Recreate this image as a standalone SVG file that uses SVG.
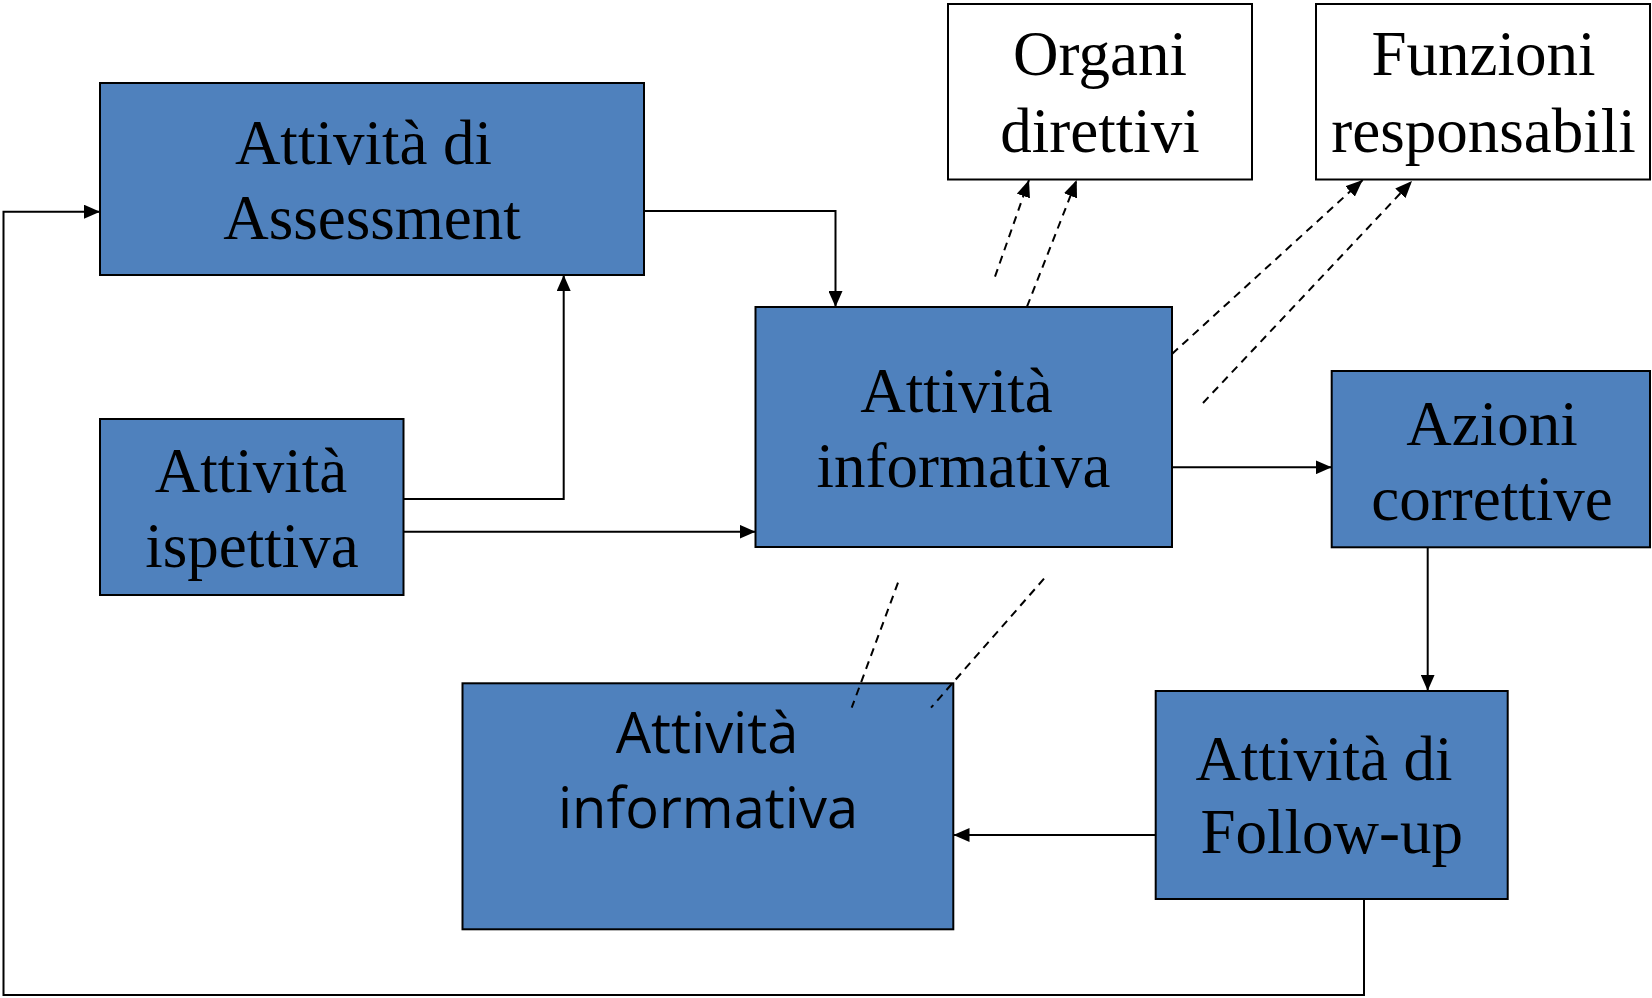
<svg xmlns="http://www.w3.org/2000/svg" width="1652" height="998" viewBox="0 0 1652 998">
<defs>
<style>
.box{fill:#4F81BD;stroke:#000;stroke-width:2}
.wbox{fill:#fff;stroke:#000;stroke-width:2}
.t{font-family:"Liberation Serif","Times New Roman",serif;font-size:63px;fill:#000;text-anchor:middle}
.s{font-family:"Open Sans","Liberation Sans",sans-serif;font-size:56px;fill:#000;text-anchor:middle}
.c{fill:none;stroke:#000;stroke-width:2}
.d{fill:none;stroke:#000;stroke-width:2;stroke-dasharray:8 6}
</style>
<marker id="ah" markerUnits="userSpaceOnUse" markerWidth="16" markerHeight="14" refX="16" refY="7" orient="auto">
<path d="M0,0 L16,7 L0,14 z" fill="#000"/>
</marker>
<marker id="dh" markerUnits="userSpaceOnUse" markerWidth="17" markerHeight="14" refX="17" refY="7" orient="auto">
<path d="M0,0 L17,7 L0,14 z" fill="#000"/>
</marker>
</defs>
<rect width="1652" height="998" fill="#fff"/>
<g id="connectors">
<path class="c" d="M644,211 H835.5 V307" marker-end="url(#ah)"/>
<path class="c" d="M403.5,499 H563.7 V275" marker-end="url(#ah)"/>
<path class="c" d="M403.5,531.7 H755.5" marker-end="url(#ah)"/>
<path class="c" d="M1172,467.3 H1331.7" marker-end="url(#ah)"/>
<path class="c" d="M1427.7,547.3 V690.7" marker-end="url(#ah)"/>
<path class="c" d="M1155.7,835 H953.5" marker-end="url(#ah)"/>
<path class="c" d="M1364,899 V995 H3.5 V211.7 H100" marker-end="url(#ah)"/>
<path class="d" d="M995,276.7 L1029,180" marker-end="url(#dh)"/>
<path class="d" d="M1027,306.7 L1076.7,180" marker-end="url(#dh)"/>
<path class="d" d="M1172,354 L1362.7,180" marker-end="url(#dh)"/>
<path class="d" d="M1203,403 L1412,181" marker-end="url(#dh)"/>
</g>
<g id="assessment">
<rect class="box" x="100" y="83" width="544" height="192"/>
<text class="t" x="363.5" y="164">Attività di</text>
<text class="t" x="372" y="239">Assessment</text>
</g>
<g id="ispettiva">
<rect class="box" x="100" y="419" width="303.5" height="176"/>
<text class="t" x="251" y="491.7">Attività</text>
<text class="t" x="252" y="566.7">ispettiva</text>
</g>
<g id="informativa-top">
<rect class="box" x="755.5" y="307" width="416.5" height="240"/>
<text class="t" x="956.5" y="411.7">Attività</text>
<text class="t" x="963.5" y="487.3">informativa</text>
</g>
<g id="organi">
<rect class="wbox" x="948" y="4" width="304" height="175.5"/>
<text class="t" x="1100" y="75">Organi</text>
<text class="t" x="1100" y="151.7">direttivi</text>
</g>
<g id="funzioni">
<rect class="wbox" x="1316" y="4" width="334" height="175.5"/>
<text class="t" x="1483.5" y="75">Funzioni</text>
<text class="t" x="1483.5" y="151.7">responsabili</text>
</g>
<g id="azioni">
<rect class="box" x="1331.7" y="371" width="318.3" height="176.3"/>
<text class="t" x="1492" y="444.6">Azioni</text>
<text class="t" x="1492" y="519.5">correttive</text>
</g>
<g id="informativa-bottom">
<rect class="box" x="462.5" y="683.3" width="490.8" height="246"/>
<text class="s" x="707" y="753.3">Attività</text>
<text class="s" x="708" y="828.3">informativa</text>
</g>
<g id="followup">
<rect class="box" x="1155.7" y="691" width="352" height="208"/>
<text class="t" x="1324" y="780">Attività di</text>
<text class="t" x="1331.7" y="853.3">Follow-up</text>
</g>
<g id="dashes-bottom">
<path class="d" d="M898,582.7 L851.7,707.7"/>
<path class="d" d="M1044,578.7 L931,707.7"/>
</g>
</svg>
